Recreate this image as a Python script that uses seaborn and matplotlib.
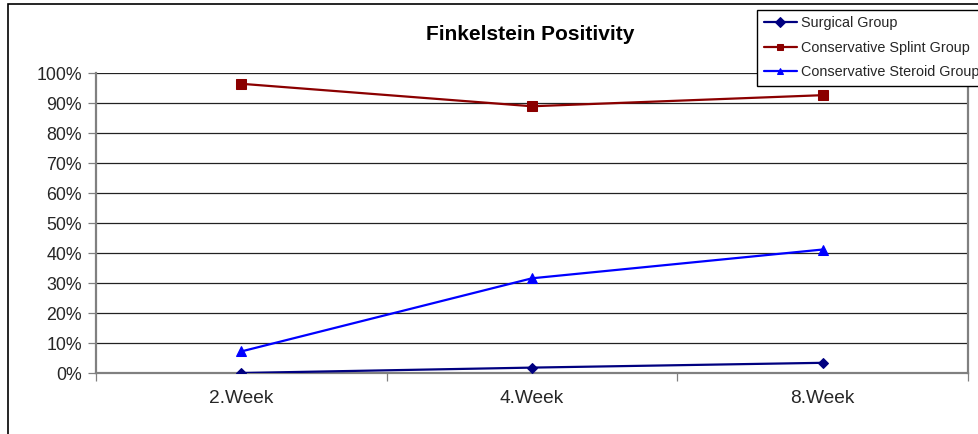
import matplotlib
matplotlib.use("Agg")
import matplotlib.pyplot as plt
from matplotlib.patches import Rectangle
from matplotlib.ticker import PercentFormatter, FixedLocator, NullFormatter
import seaborn as sns
import pandas as pd

weeks = ["2.Week", "4.Week", "8.Week"]
surgical = [0.0, 1.8, 3.4]
splint = [96.5, 89.0, 92.7]
steroid = [7.2, 31.6, 41.2]

series_names = ["Surgical Group", "Conservative Splint Group", "Conservative Steroid Group"]
series_values = [surgical, splint, steroid]
colors = ["#000080", "#8B0000", "#0000FF"]
markers = ["D", "s", "^"]
marker_sizes = [5, 7, 7]

rows = []
for name, vals in zip(series_names, series_values):
    for i, (w, v) in enumerate(zip(weeks, vals)):
        rows.append({"week": w, "pos": i, "value": v / 100.0, "group": name})
df = pd.DataFrame(rows)

sns.set_theme(style="white")
plt.rcParams["font.family"] = ["Liberation Sans", "DejaVu Sans"]

fig = plt.figure(figsize=(9.79, 4.34), dpi=100)
ax = fig.add_axes([96 / 979, 1 - 373 / 434, (968 - 96) / 979, (373 - 73.3) / 434])

for name, c, m, ms in zip(series_names, colors, markers, marker_sizes):
    sub = df[df["group"] == name]
    sns.lineplot(data=sub, x="pos", y="value", ax=ax, color=c, marker=m,
                 markersize=ms, markeredgecolor=c, markerfacecolor=c,
                 linewidth=1.6, label=name, zorder=3)

ax.set_xlim(-0.5, 2.5)
ax.set_ylim(0, 1)
ax.set_xlabel("")
ax.set_ylabel("")

# y axis: 10% steps with black gridlines
ax.yaxis.set_major_locator(FixedLocator([i / 10 for i in range(11)]))
ax.yaxis.set_major_formatter(PercentFormatter(xmax=1, decimals=0))
ax.grid(axis="y", color="#222222", linewidth=0.9)
ax.grid(axis="x", visible=False)
ax.tick_params(axis="y", which="major", direction="out", length=6, width=0.9,
               color="#808080", labelsize=12.8, pad=4, left=True)

# x axis: ticks on category boundaries, labels centred on categories
ax.xaxis.set_major_locator(FixedLocator([-0.5, 0.5, 1.5, 2.5]))
ax.xaxis.set_major_formatter(NullFormatter())
ax.set_xticks([0, 1, 2], minor=True)
ax.set_xticklabels(weeks, minor=True)
ax.tick_params(axis="x", which="major", direction="out", length=6, width=0.9,
               color="#808080", bottom=True)
ax.tick_params(axis="x", which="minor", length=0, labelsize=13.8, pad=12)

for side in ["left", "bottom", "right"]:
    ax.spines[side].set_visible(True)
    ax.spines[side].set_color("#808080")
    ax.spines[side].set_linewidth(1.6)
ax.spines["top"].set_visible(False)

fig.text(530 / 979, 1 - 35 / 434, "Finkelstein Positivity", ha="center", va="center",
         fontsize=15, fontweight="bold", color="black")

leg = ax.legend(loc="upper left", bbox_to_anchor=(757 / 979, 1 - 10 / 434),
                bbox_transform=fig.transFigure, frameon=True, fancybox=False,
                fontsize=10.4, handlelength=2.3, handletextpad=0.3,
                borderpad=0.45, labelspacing=0.72, borderaxespad=0)
leg.get_frame().set_edgecolor("black")
leg.get_frame().set_linewidth(1.0)
leg.get_frame().set_facecolor("white")
leg.get_frame().set_alpha(1)
for line in leg.get_lines():
    line.set_linewidth(1.6)
    line.set_markersize(5)

# outer chart border
fig.patches.append(Rectangle((8 / 979, -0.05), 1.1, 1 - 4 / 434 + 0.05,
                             transform=fig.transFigure, fill=False,
                             edgecolor="black", linewidth=1.2))

fig.savefig("out.png", dpi=100)
